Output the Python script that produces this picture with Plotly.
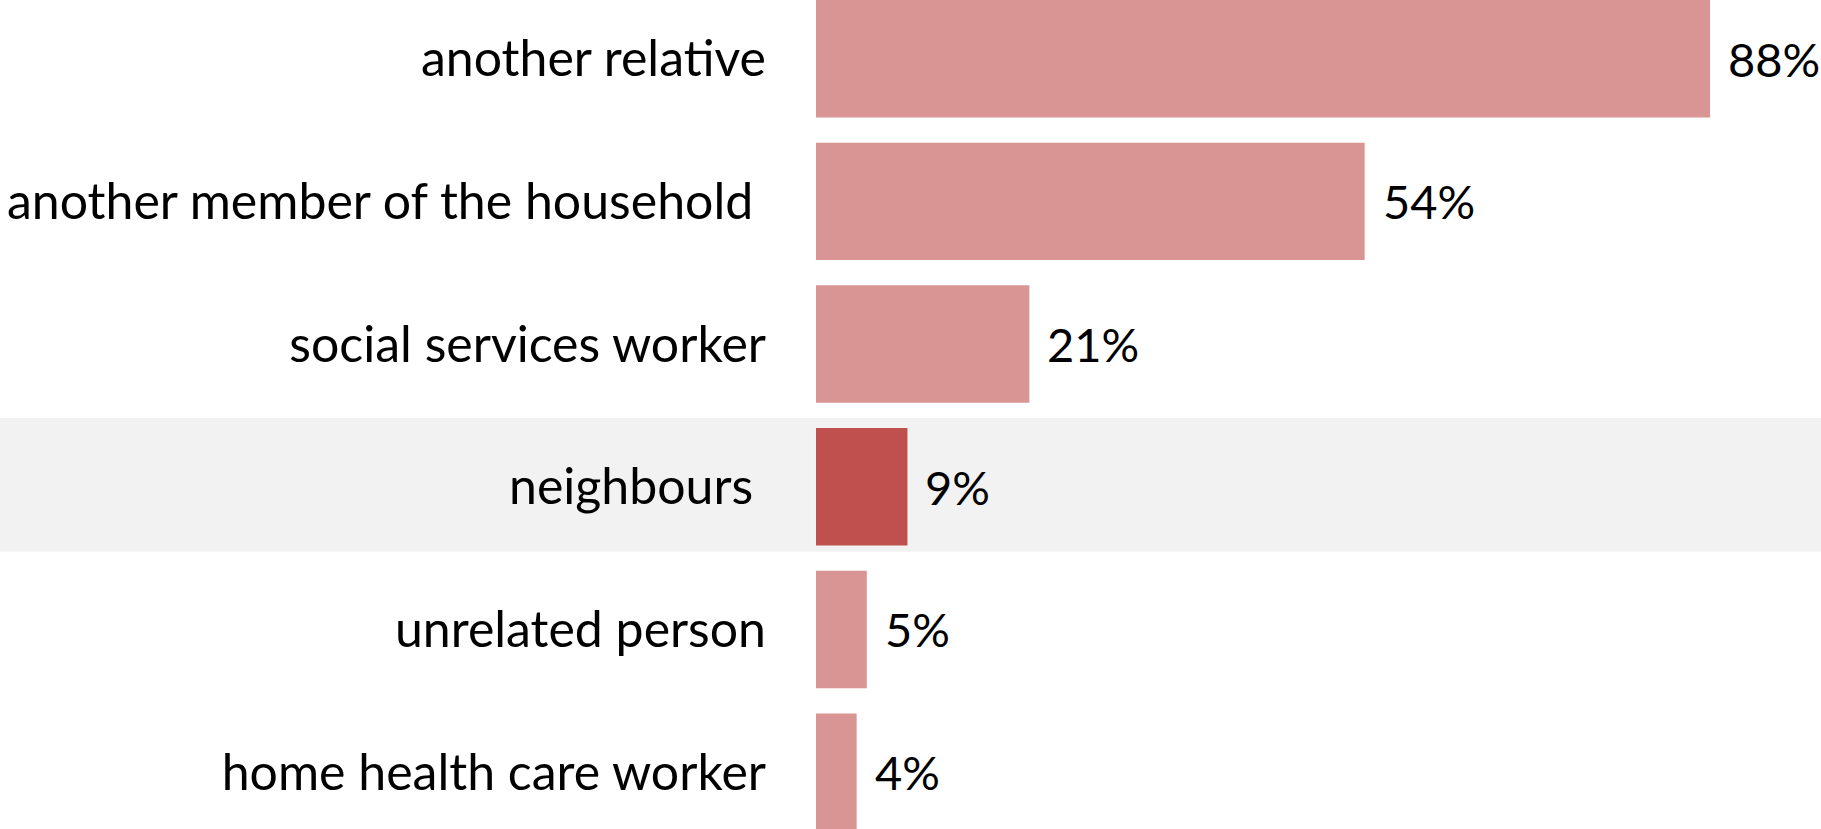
import plotly.graph_objects as go

# Who else helps: share of respondents naming each source of help
categories = [
    "another relative",
    "another member of the household\u00a0",
    "social services worker",
    "neighbours\u00a0",
    "unrelated person",
    "home health care worker",
]
values = [88, 54, 21, 9, 5, 4]
highlight = "neighbours\u00a0"

BASE = "#D99594"
ACCENT = "#C0504D"
BAND = "#F2F2F2"
FONT = "Lato"
W, H = 1821, 829
LEFT = 816

colors = [ACCENT if c == highlight else BASE for c in categories]

fig = go.Figure(
    go.Bar(
        x=values,
        y=categories,
        orientation="h",
        marker=dict(color=colors, line=dict(width=0)),
        hoverinfo="skip",
    )
)

# value labels just right of each bar
for c, v in zip(categories, values):
    fig.add_annotation(
        x=v, y=c, text=f"{v}%", showarrow=False,
        xanchor="left", yanchor="middle", xshift=16,
        font=dict(family=FONT, size=47, color="#000000"),
    )

# grey band behind the highlighted row, spanning the full width
hi = categories.index(highlight)
fig.add_shape(
    type="rect", layer="below",
    xref="paper", x0=-LEFT / (W - LEFT), x1=1,
    yref="y", y0=hi - 0.482, y1=hi + 0.455,
    fillcolor=BAND, line=dict(width=0),
)

fig.update_layout(
    width=W, height=H,
    margin=dict(l=LEFT, r=0, t=0, b=0),
    paper_bgcolor="white", plot_bgcolor="white",
    bargap=0.177,
    showlegend=False,
    font=dict(family=FONT, size=50, color="#000000"),
)
fig.update_xaxes(
    range=[0, (W - LEFT) / 10.16],
    visible=False, showgrid=False, zeroline=False,
)
fig.update_yaxes(
    range=[5.398, -0.411],
    showgrid=False, zeroline=False, showline=False,
    ticks="", ticklabelstandoff=49,
    tickfont=dict(family=FONT, size=50, color="#000000"),
)

fig.write_html("out.html")
